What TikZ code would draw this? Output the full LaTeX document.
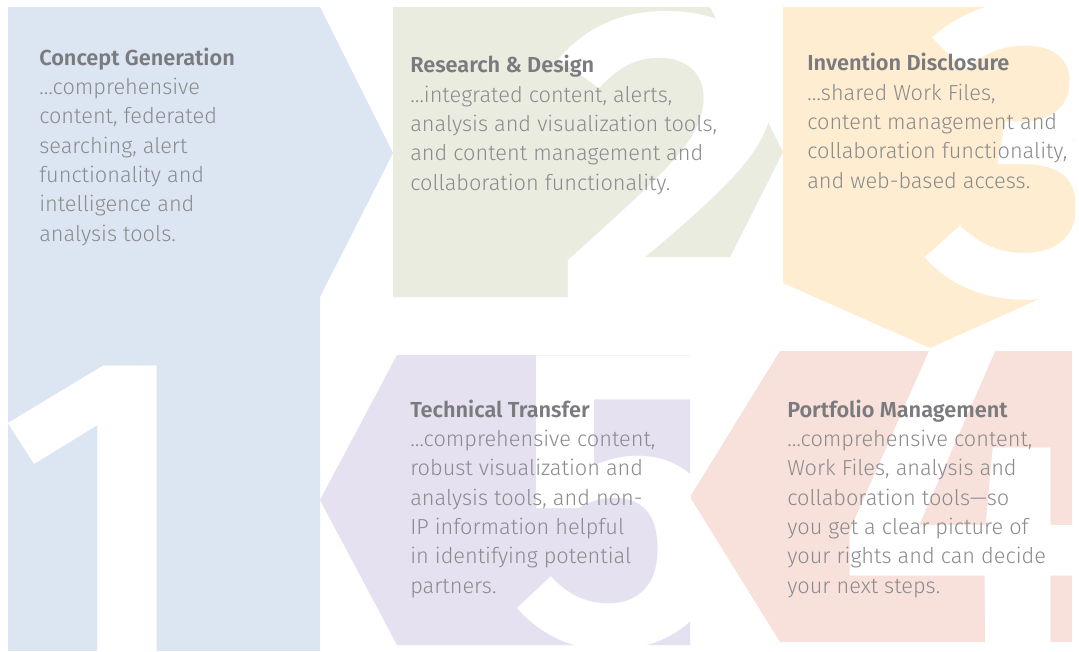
\documentclass[tikz,border=0pt]{standalone}
\usepackage{fontspec}
\newfontfamily\lightf{Fira Sans Light}
\newfontfamily\medf{Fira Sans SemiBold}
\newfontfamily\digf{Fira Sans SemiBold}[Numbers=Lining]
\definecolor{cblue}{HTML}{DCE6F2}
\definecolor{cgreen}{HTML}{E9ECDF}
\definecolor{cyellow}{HTML}{FEEDD0}
\definecolor{cpink}{HTML}{F8E0DB}
\definecolor{cpurple}{HTML}{E6E1F0}
\definecolor{titlegray}{HTML}{7A7B7E}
\definecolor{bodygray}{HTML}{8A8B8E}
\begin{document}
\begin{tikzpicture}[x=0.75pt,y=-0.75pt,
  blk/.style={anchor=base west, inner sep=0pt, align=left, text=bodygray,
    font=\lightf\fontsize{16.3}{22}\selectfont},
  dig/.style={anchor=base west, inner sep=0pt, text=white, transform shape,
    font=\digf\fontsize{320}{320}\selectfont}]
\useasboundingbox (0,0) rectangle (1079,651);
\fill[white] (0,0) rectangle (1079,651);
% shape 1
\fill[cblue] (8,7) -- (320,7) -- (393,153) -- (320,297) -- (320,651) -- (8,651) -- cycle;
\begin{scope}
\clip (8,7) -- (320,7) -- (393,153) -- (320,297) -- (320,651) -- (8,651) -- cycle;
\node[dig] (d1) at (0,653) {1};
\end{scope}
% shape 2
\fill[cgreen] (393,7) -- (710,7) -- (783,152) -- (710,297) -- (393,297) -- cycle;
\begin{scope}
\clip (393,7) -- (710,7) -- (783,152) -- (710,297) -- (393,297) -- cycle;
\begin{scope}[shift={(553,304)}, xscale=1.12]
\node[dig] (d2) at (0,0) {2};
\end{scope}
\end{scope}
% shape 3
\fill[cyellow] (783,7) -- (1075,7) -- (1075,283) -- (930,348) -- (783,283) -- cycle;
\begin{scope}
\clip (783,7) -- (1075,7) -- (1075,283) -- (930,348) -- (783,283) -- cycle;
\begin{scope}[shift={(924,293)}, xscale=1.08]
\node[dig] (d3) at (0,0) {3};
\end{scope}
\end{scope}
% shape 4
\fill[cpink] (780,351) -- (1072,351) -- (1072,642) -- (780,642) -- (690,497) -- cycle;
\begin{scope}
\clip (780,351) -- (1072,351) -- (1072,642) -- (780,642) -- (690,497) -- cycle;
\begin{scope}[shift={(835,646)}, xscale=1.11, yscale=1.1]
\node[dig] (d4) at (0,0) {4};
\end{scope}
\end{scope}
% shape 5
\fill[cpurple] (397,355) -- (690,355) -- (690,645) -- (397,645) -- (320,500) -- cycle;
\begin{scope}
\clip (397,355) -- (690,355) -- (690,645) -- (397,645) -- (320,500) -- cycle;
\node[dig] (d5) at (510,643) {5};
\end{scope}
% texts (anchor base = baseline of the last line)
\node[blk] (t1) at (39,241) {{\medf\color{titlegray}Concept Generation}\\
…comprehensive\\content, federated\\searching, alert\\functionality and\\intelligence and\\analysis tools.};
\node[blk] (t2) at (410,190) {{\medf\color{titlegray}Research \& Design}\\
…integrated content, alerts,\\analysis and visualization tools,\\and content management and\\collaboration functionality.};
\node[blk] (t3) at (807,188) {{\medf\color{titlegray}Invention Disclosure}\\
…shared Work Files,\\content management and\\collaboration functionality,\\and web-based access.};
\node[blk] (t5) at (410,593) {{\medf\color{titlegray}Technical Transfer}\\
…comprehensive content,\\robust visualization and\\analysis tools, and non-\\IP information helpful\\in identifying potential\\partners.};
\node[blk] (t4) at (787,593) {{\medf\color{titlegray}Portfolio Management}\\
…comprehensive content,\\Work Files, analysis and\\collaboration tools—so\\you get a clear picture of\\your rights and can decide\\your next steps.};
\end{tikzpicture}
\end{document}
